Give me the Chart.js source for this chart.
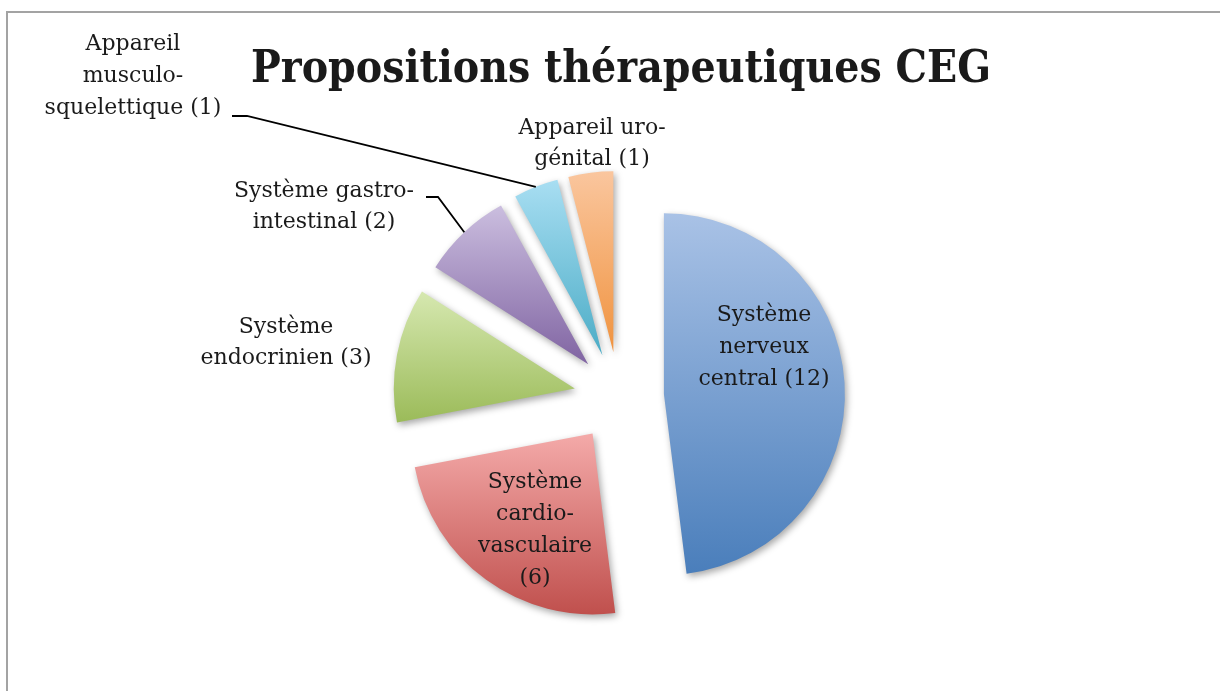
<!DOCTYPE html>
<html lang="fr">
<head>
<meta charset="utf-8">
<title>Propositions thérapeutiques CEG</title>
<script src="https://cdn.jsdelivr.net/npm/chart.js@4.4.1/dist/chart.umd.min.js"></script>
<style>
  body { margin: 0; background: #fff; }
  #wrap { position: relative; width: 1220px; height: 691px; overflow: hidden; }
  #frame { position: absolute; left: 6px; top: 11px; right: -4px; bottom: -4px;
           border-left: 2px solid #a3a3a3; border-top: 2px solid #a3a3a3; }
  canvas { position: absolute; left: 0; top: 0; }
</style>
</head>
<body>
<div id="wrap">
  <div id="frame"></div>
  <canvas id="chart" width="1220" height="691"></canvas>
</div>
<script>
// Propositions thérapeutiques CEG : camembert éclaté

const categories = [
  ['Système', 'nerveux', 'central (12)'],
  ['Système', 'cardio-', 'vasculaire', '(6)'],
  ['Système', 'endocrinien (3)'],
  ['Système gastro-', 'intestinal (2)'],
  ['Appareil', 'musculo-', 'squelettique (1)'],
  ['Appareil uro-', 'génital (1)']
];
const values = [12, 6, 3, 2, 1, 1];

const lightColors = ['#a9c2e6', '#f4aaa9', '#d6e8b0', '#cbbedf', '#a8def2', '#fac69e'];
const darkColors  = ['#4a7ebb', '#c0504d', '#9bbb59', '#8064a2', '#4bacc6', '#f0933f'];

const EXPLODE = 45;
const FONT = "'DejaVu Serif', serif";
const TITLE_FONT = "'DejaVu Serif Condensed', 'DejaVu Serif', serif";

// position des étiquettes (centre de chaque ligne)
const labelPos = [
  { x: 764, y: [315, 347, 379] },
  { x: 535, y: [482, 514, 546, 578] },
  { x: 286, y: [327, 358] },
  { x: 324, y: [191, 222] },
  { x: 133, y: [44, 76, 108] },
  { x: 592, y: [128, 159] }
];
// lignes de rappel : [x début, y, x coude]
const leaders = { 3: [426, 197, 438], 4: [232, 116, 247] };

function arcBox(arc) {
  let minY = arc.y, maxY = arc.y;
  for (let i = 0; i <= 60; i++) {
    const a = arc.startAngle + (arc.endAngle - arc.startAngle) * i / 60;
    const y = arc.y + Math.sin(a) * arc.outerRadius;
    minY = Math.min(minY, y);
    maxY = Math.max(maxY, y);
  }
  return { minY, maxY };
}

const explodePlugin = {
  id: 'explode',
  afterDatasetUpdate(chart) {
    chart.getDatasetMeta(0).data.forEach(arc => {
      const mid = (arc.startAngle + arc.endAngle) / 2;
      arc.x += Math.cos(mid) * EXPLODE;
      arc.y += Math.sin(mid) * EXPLODE;
    });
  },
  beforeDatasetsDraw(chart) {
    const ctx = chart.ctx;
    chart.getDatasetMeta(0).data.forEach((arc, i) => {
      const b = arcBox(arc);
      const g = ctx.createLinearGradient(0, b.minY, 0, b.maxY);
      g.addColorStop(0, lightColors[i]);
      g.addColorStop(1, darkColors[i]);
      arc.options.backgroundColor = g;
    });
    ctx.save();
    ctx.shadowColor = 'rgba(0,0,0,0.35)';
    ctx.shadowBlur = 7;
    ctx.shadowOffsetX = 2;
    ctx.shadowOffsetY = 3;
  },
  afterDatasetsDraw(chart) {
    chart.ctx.restore();
  },
  afterDraw(chart) {
    const ctx = chart.ctx;
    ctx.save();
    ctx.fillStyle = '#1a1a1a';
    ctx.textAlign = 'center';
    ctx.textBaseline = 'middle';

    ctx.font = "bold 44px " + TITLE_FONT;
    ctx.fillText('Propositions thérapeutiques CEG', 621, 71);

    ctx.font = "22px " + FONT;
    categories.forEach((lines, i) => {
      lines.forEach((t, j) => ctx.fillText(t, labelPos[i].x, labelPos[i].y[j]));
    });

    const arcs = chart.getDatasetMeta(0).data;
    ctx.strokeStyle = '#000';
    ctx.lineWidth = 1.8;
    Object.keys(leaders).forEach(k => {
      const arc = arcs[k];
      const mid = (arc.startAngle + arc.endAngle) / 2;
      const ex = arc.x + Math.cos(mid) * arc.outerRadius;
      const ey = arc.y + Math.sin(mid) * arc.outerRadius;
      const [x0, y0, x1] = leaders[k];
      ctx.beginPath();
      ctx.moveTo(x0, y0);
      ctx.lineTo(x1, y0);
      ctx.lineTo(ex, ey);
      ctx.stroke();
    });
    ctx.restore();
  }
};

new Chart(document.getElementById('chart'), {
  type: 'pie',
  data: {
    labels: categories.map(c => c.join(' ')),
    datasets: [{
      data: values,
      backgroundColor: darkColors,
      borderWidth: 0
    }]
  },
  options: {
    responsive: false,
    animation: false,
    events: [],
    radius: 181,
    layout: { padding: { left: 18, right: 0, top: 103, bottom: 0 } },
    plugins: {
      legend: { display: false },
      tooltip: { enabled: false },
      title: { display: false }
    }
  },
  plugins: [explodePlugin]
});
</script>
</body>
</html>
